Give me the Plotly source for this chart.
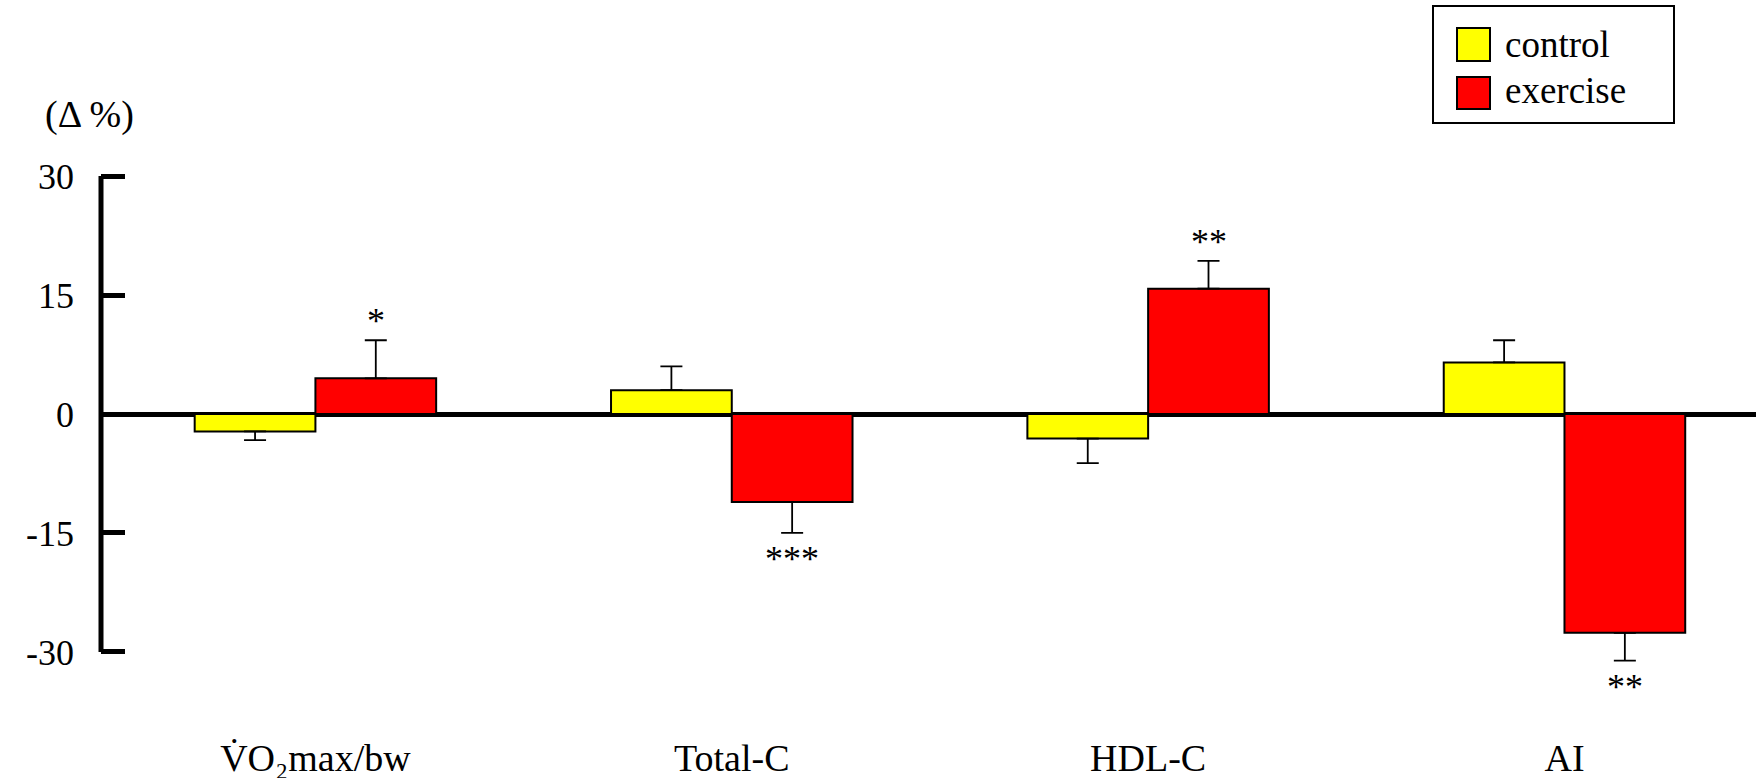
import plotly.graph_objects as go

categories = ["V\u0307O\u2082max/bw", "Total-C", "HDL-C", "AI"]
control_mean = [-2.2, 3.0, -3.1, 6.5]
control_err = [1.1, 3.0, 3.1, 2.8]
exercise_mean = [4.5, -11.1, 15.8, -27.6]
exercise_err = [4.8, 3.9, 3.5, 3.5]
exercise_sig = ["*", "***", "**", "**"]
tick_vals = [-30, -15, 0, 15, 30]
tick_text = ["-30", "-15", "0", "15", "30"]

FONT = "Liberation Serif"
FS = 36
BARGAP = 0.42


def up(m, e):
    return [ei if mi >= 0 else 0 for mi, ei in zip(m, e)]


def down(m, e):
    return [ei if mi < 0 else 0 for mi, ei in zip(m, e)]


fig = go.Figure()
for name, m, e, col in [("control", control_mean, control_err, "#ffff00"),
                        ("exercise", exercise_mean, exercise_err, "#ff0000")]:
    fig.add_trace(go.Bar(
        x=categories, y=m, name=name, showlegend=False,
        marker=dict(color=col, line=dict(color="black", width=2)),
        error_y=dict(type="data", symmetric=False, array=up(m, e), arrayminus=down(m, e),
                     color="black", thickness=1.8, width=11),
        cliponaxis=False, hoverinfo="skip",
    ))

# significance marks above/below exercise bars
off = (1 - BARGAP) / 4
for i, (m, e, s) in enumerate(zip(exercise_mean, exercise_err, exercise_sig)):
    if m >= 0:
        fig.add_annotation(x=i + off, y=m + e, text=s, showarrow=False, xref="x", yref="y",
                           yanchor="bottom", yshift=-3, font=dict(family=FONT, size=FS, color="black"))
    else:
        fig.add_annotation(x=i + off, y=m - e, text=s, showarrow=False, xref="x", yref="y",
                           yanchor="top", yshift=-4, font=dict(family=FONT, size=FS, color="black"))

# y axis line from -30 to 30
fig.add_shape(type="line", xref="paper", yref="y", x0=0, x1=0, y0=tick_vals[0], y1=tick_vals[-1],
              line=dict(color="black", width=5))

# manual legend
W, H = 1756, 778
L, R, T, B = 101, 0, 130, 50
pw, ph = W - L - R, H - T - B


def px(x):
    return (x - L) / pw


def py(y):
    return (H - B - y) / ph


fig.add_shape(type="rect", xref="paper", yref="paper", x0=px(1433), x1=px(1674), y0=py(123), y1=py(6),
              line=dict(color="black", width=2), fillcolor="white")
for name, col, y0, y1, ty in [("control", "#ffff00", 28, 61, 44), ("exercise", "#ff0000", 77, 109, 90)]:
    fig.add_shape(type="rect", xref="paper", yref="paper", x0=px(1457), x1=px(1490), y0=py(y1), y1=py(y0),
                  line=dict(color="black", width=2), fillcolor=col)
    fig.add_annotation(x=px(1503), y=py(ty), xref="paper", yref="paper", text=name, showarrow=False,
                       xanchor="left", yanchor="middle", font=dict(family=FONT, size=37, color="black"))

fig.add_annotation(x=px(89), y=py(114), xref="paper", yref="paper", text="(\u0394 %)", showarrow=False,
                   xanchor="center", yanchor="middle", font=dict(family=FONT, size=38, color="black"))

zero_px = 414
scale = 7.93
ytop = (zero_px - T) / scale
ybot = -(H - B - zero_px) / scale

fig.update_layout(
    width=W, height=H,
    margin=dict(l=L, r=R, t=T, b=B, autoexpand=False),
    paper_bgcolor="white", plot_bgcolor="white",
    barmode="group", bargap=BARGAP, bargroupgap=0,
    font=dict(family=FONT, size=FS, color="black"),
    showlegend=False, hovermode=False,
    xaxis=dict(range=[-0.515, 3.46], showline=False, showgrid=False, zeroline=False, ticks="",
               automargin=False,
               tickfont=dict(family=FONT, size=38, color="black"), ticklabelstandoff=4),
    yaxis=dict(range=[ybot, ytop], showline=False, showgrid=False, automargin=False,
               zeroline=True, zerolinecolor="black", zerolinewidth=5,
               tickvals=tick_vals, ticktext=tick_text, ticks="inside", ticklen=24, tickwidth=5,
               tickcolor="black", ticklabelstandoff=26,
               tickfont=dict(family=FONT, size=FS, color="black")),
)

fig.write_html("out.html", config={"displayModeBar": False},
               post_script="document.body.style.margin='0';document.body.style.overflow='hidden';")
